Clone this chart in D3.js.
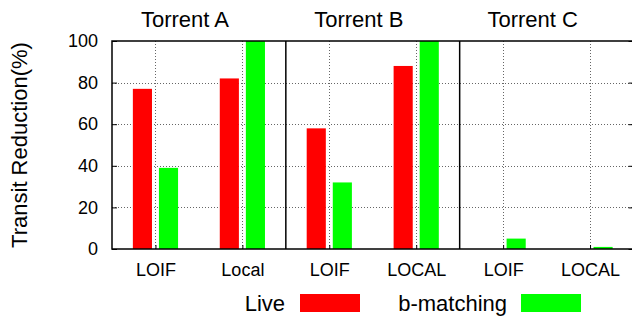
<!DOCTYPE html>
<html>
<head>
<meta charset="utf-8">
<script src="https://cdn.jsdelivr.net/npm/d3@7"></script>
<style>
  body { margin: 0; background: #fff; }
  svg { display: block; font-family: "Liberation Sans", Arial, Helvetica, sans-serif; }
</style>
</head>
<body>
<div id="chart"></div>
<script>
// data
const categories = ["LOIF", "Local", "LOIF", "LOCAL", "LOIF", "LOCAL"];
const torrents = ["Torrent A", "Torrent B", "Torrent C"];
const liveValues = [77, 82, 58, 88, 0, 0];
const bmatchValues = [39, 100, 32, 100, 5, 1];
const yTicks = [0, 20, 40, 60, 80, 100];
const seriesNames = ["Live", "b-matching"];
const seriesColors = ["#ff0000", "#00ff00"];

const width = 632, height = 316;

const svg = d3.select("#chart").append("svg")
    .attr("width", width)
    .attr("height", height);

// scales
const x = d3.scaleLinear().domain([-0.5, 5.5]).range([112, 633.5]);
const y = d3.scaleLinear().domain([0, 100]).range([249, 41]);

// grid lines (dotted)
const grid = svg.append("g")
    .attr("stroke", "#666")
    .attr("stroke-width", 1)
    .attr("stroke-dasharray", "1,2");

yTicks.filter(t => t > 0 && t < 100).forEach(t => {
    grid.append("line")
        .attr("x1", x(-0.5)).attr("x2", x(5.5))
        .attr("y1", Math.round(y(t)) + 0.5).attr("y2", Math.round(y(t)) + 0.5);
});
categories.forEach((c, i) => {
    grid.append("line")
        .attr("x1", Math.round(x(i)) + 0.5).attr("x2", Math.round(x(i)) + 0.5)
        .attr("y1", y(100)).attr("y2", y(0));
});

// bars
const barW = 0.22, off = 0.15;
[liveValues, bmatchValues].forEach((vals, s) => {
    svg.append("g").selectAll("rect")
        .data(vals)
        .join("rect")
        .attr("x", (d, i) => x(i + (s === 0 ? -off : off) - barW / 2))
        .attr("width", x(barW) - x(0))
        .attr("y", d => y(d))
        .attr("height", d => y(0) - y(d))
        .attr("fill", seriesColors[s]);
});

// frame and panel dividers
const frame = svg.append("g").attr("stroke", "#000").attr("stroke-width", 1.5).attr("fill", "none");
frame.append("rect")
    .attr("x", x(-0.5)).attr("y", y(100))
    .attr("width", x(5.5) - x(-0.5)).attr("height", y(0) - y(100));
[1.5, 3.5].forEach(p => {
    frame.append("line")
        .attr("x1", x(p)).attr("x2", x(p))
        .attr("y1", y(100)).attr("y2", y(0));
});

// y axis (inward ticks)
const yAxis = d3.axisLeft(y).tickValues(yTicks).tickSize(-5).tickPadding(14);
const yg = svg.append("g")
    .attr("transform", `translate(${x(-0.5)},0)`)
    .call(yAxis);
yg.select(".domain").remove();
yg.selectAll("text")
    .attr("font-size", 18)
    .attr("font-family", "Liberation Sans, Arial, sans-serif")
    .attr("fill", "#000");
yg.selectAll("line").attr("stroke", "#000");

// mirrored ticks on the right edge
const yr = svg.append("g")
    .attr("transform", `translate(${x(5.5)},0)`)
    .call(d3.axisRight(y).tickValues(yTicks).tickSize(-5).tickFormat(""));
yr.select(".domain").remove();
yr.selectAll("line").attr("stroke", "#000");

// x axis labels
const xAxis = d3.axisBottom(x)
    .tickValues(d3.range(categories.length))
    .tickFormat(i => categories[i])
    .tickSize(-4).tickPadding(14);
const xg = svg.append("g")
    .attr("transform", `translate(0,${y(0)})`)
    .call(xAxis);
xg.select(".domain").remove();
xg.selectAll("line").attr("stroke", "#000");
xg.selectAll("text")
    .attr("font-size", 18)
    .attr("font-family", "Liberation Sans, Arial, sans-serif")
    .attr("fill", "#000");

// panel titles
torrents.forEach((t, p) => {
    svg.append("text")
        .attr("x", x(2 * p + 0.34))
        .attr("y", 27)
        .attr("text-anchor", "middle")
        .attr("font-size", 22)
        .text(t);
});

// y axis label
svg.append("text")
    .attr("transform", "rotate(-90)")
    .attr("x", -145)
    .attr("y", 27)
    .attr("text-anchor", "middle")
    .attr("font-size", 22)
    .text("Transit Reduction(%)");

// legend
const legendItems = [
    { name: seriesNames[0], color: seriesColors[0], textX: 285, boxX: 300 },
    { name: seriesNames[1], color: seriesColors[1], textX: 507, boxX: 521 }
];
legendItems.forEach(l => {
    svg.append("text")
        .attr("x", l.textX)
        .attr("y", 311)
        .attr("text-anchor", "end")
        .attr("font-size", 22)
        .text(l.name);
    svg.append("rect")
        .attr("x", l.boxX)
        .attr("y", 294)
        .attr("width", 60)
        .attr("height", 18)
        .attr("fill", l.color);
});
</script>
</body>
</html>
